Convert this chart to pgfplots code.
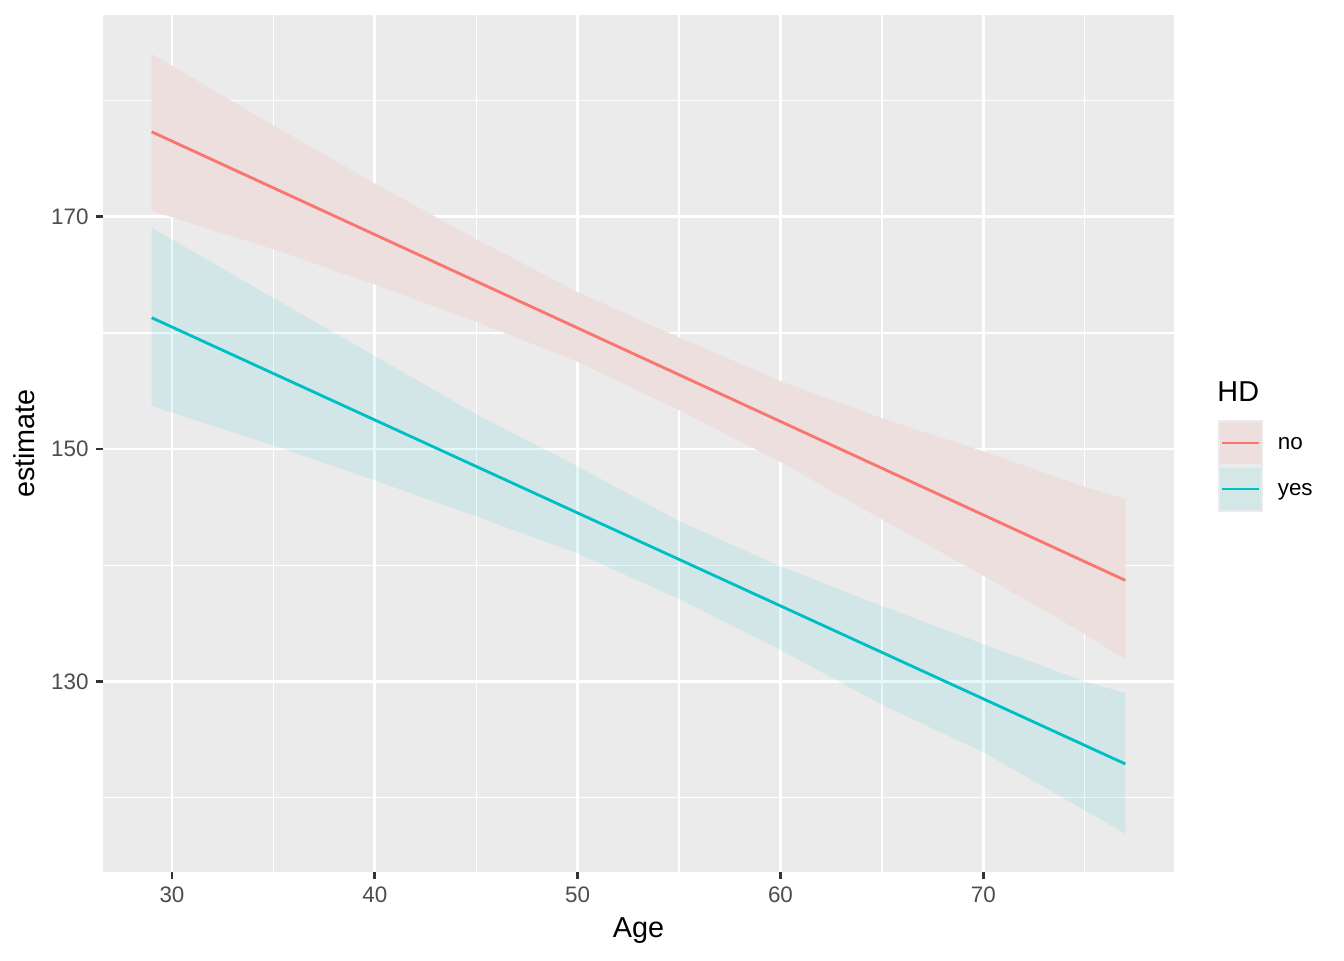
\documentclass[border=0pt]{standalone}
\usepackage{fontspec}
\setmainfont{Liberation Sans}
\usepackage{pgfplots}
\usepackage{pgfplotstable}
\pgfplotsset{compat=1.18}
\definecolor{cRed}{HTML}{F8766D}
\definecolor{cBlue}{HTML}{00BFC4}
\definecolor{panel}{HTML}{EBEBEB}
\definecolor{keyRed}{HTML}{ECDFDE}
\definecolor{keyBlue}{HTML}{D4E7E7}
\definecolor{gtick}{HTML}{333333}
\definecolor{glabel}{HTML}{4D4D4D}

% confidence band "no": upper edge left to right, then lower edge right to left
\pgfplotstableread{
x y
29 184.0
35 177.85
40 172.85
45 168.05
50 163.5
55 159.6
60 155.85
65 152.65
70 149.8
75 146.75
77 145.7
77 131.9
75 134.1
70 139.1
65 143.95
60 148.9
55 153.35
50 157.5
45 160.95
40 164.15
35 167.2
29 170.5
}\bandNo

% confidence band "yes"
\pgfplotstableread{
x y
29 169.05
35 163.0
40 158.0
45 153.0
50 148.5
55 143.8
60 139.9
65 136.5
70 133.2
75 130.0
77 129.0
77 116.9
75 118.9
70 123.9
65 128.0
60 132.7
55 137.1
50 141.0
45 144.2
40 147.3
35 150.3
29 153.7
}\bandYes

\pgfplotstableread{
x y
29 177.3
77 138.7
}\lineNo

\pgfplotstableread{
x y
29 161.3
77 122.9
}\lineYes

\begin{document}
\begin{tikzpicture}
\path (0pt,0pt) rectangle (672pt,480pt);
\begin{axis}[
  at={(51.5pt,44pt)}, anchor=south west,
  scale only axis, width=535.5pt, height=428.5pt,
  xmin=26.6, xmax=79.4, ymin=113.6, ymax=187.35,
  clip mode=individual,
  axis background/.style={fill=panel},
  axis line style={draw=none},
  xtick={30,40,50,60,70}, ytick={130,150,170},
  minor xtick={35,45,55,65,75}, minor ytick={120,140,160,180},
  grid=both,
  major grid style={white, line width=1.42pt},
  minor grid style={white, line width=0.71pt},
  tick align=outside, xtick pos=bottom, ytick pos=left,
  major tick length=3.4pt, minor tick length=0pt,
  major tick style={gtick, line width=1.42pt},
  /pgf/number format/assume math mode=true,
  xticklabel style={anchor=north, inner sep=0pt, yshift=-3.65pt, text=glabel, font=\fontsize{11.2}{13}\selectfont},
  yticklabel style={anchor=east, inner sep=0pt, xshift=-3.6pt, text=glabel, font=\fontsize{11.2}{13}\selectfont},
  xlabel={Age}, ylabel={estimate},
  xlabel style={at={(axis description cs:0.5,-0.0762)}, anchor=base, inner sep=0pt, font=\fontsize{14.4}{17}\selectfont},
  ylabel style={at={(axis description cs:-0.0635,0.5)}, anchor=base, inner sep=0pt, font=\fontsize{14.4}{17}\selectfont},
  legend style={at={(axis description cs:1.04108,0.52742)}, anchor=north west,
    draw=none, fill=none, inner sep=0pt, outer sep=0pt, row sep=0pt,
    nodes={inner sep=0pt, outer sep=0pt, font=\fontsize{11.2}{13}\selectfont, text=black},
    /tikz/every odd column/.append style={column sep=7.4pt}},
  legend cell align=left,
]
\addplot[fill=keyRed, draw=none, forget plot] table {\bandNo} -- cycle;
\addplot[fill=cBlue, fill opacity=0.1, draw=none, forget plot] table {\bandYes} -- cycle;
\addplot[cRed, line width=1.42pt, forget plot] table {\lineNo};
\addplot[cBlue, line width=1.42pt, forget plot] table {\lineYes};

\addlegendimage{legend image code/.code={
  \path[fill=panel, draw=none] (0pt,-11.5pt) rectangle (22.5pt,11.5pt);
  \path[fill=keyRed, draw=none] (0.8pt,-10.7pt) rectangle (21.7pt,10.7pt);
  \path[draw=cRed, line width=1.42pt] (2.2pt,0pt) -- (20.3pt,0pt);}}
\addlegendentry{\raisebox{-1.5pt}{no}}
\addlegendimage{legend image code/.code={
  \path[fill=panel, draw=none] (0pt,-11.5pt) rectangle (22.5pt,11.5pt);
  \path[fill=keyBlue, draw=none] (0.8pt,-10.7pt) rectangle (21.7pt,10.7pt);
  \path[draw=cBlue, line width=1.42pt] (2.2pt,0pt) -- (20.3pt,0pt);}}
\addlegendentry{\raisebox{-1.5pt}{yes}}

\node[anchor=base west, inner sep=0pt, font=\fontsize{14.4}{17}\selectfont] at (axis description cs:1.0402,0.5488) {HD};
\end{axis}
\end{tikzpicture}
\end{document}
